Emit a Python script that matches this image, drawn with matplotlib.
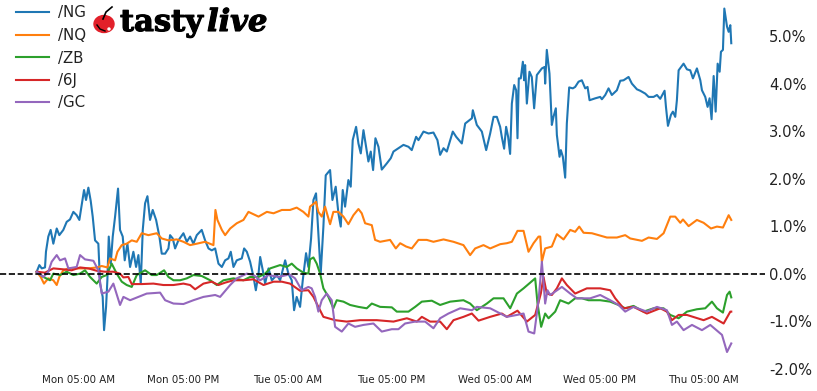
import matplotlib
matplotlib.use("Agg")
import matplotlib.pyplot as plt
import matplotlib.patheffects as pe
from matplotlib.patches import Ellipse

# hours since Monday 00:00, percent change
ng_hours = [0.12,0.43,0.70,1.08,1.19,1.46,1.73,2.04,2.43,2.73,3.19,3.58,3.96,4.35,4.73,5.04,5.31,5.58,5.81,6.08,6.35,6.58,6.85,7.23,7.43,7.73,7.89,8.12,8.27,8.43,8.66,8.89,9.16,9.50,9.73,10.04,10.27,10.58,10.89,11.27,11.58,11.85,12.12,12.35,12.62,12.89,13.19,13.50,13.89,14.27,14.54,14.93,15.31,15.50,15.81,16.08,16.46,17.04,17.43,17.81,18.19,18.58,19.15,19.54,19.93,20.31,20.70,21.08,21.47,21.85,22.23,22.50,22.81,23.19,23.77,24.04,24.35,24.73,25.12,25.39,25.70,25.89,26.19,26.46,26.85,27.23,27.81,28.19,28.77,29.14,29.53,29.80,30.10,30.49,30.80,31.18,31.45,31.76,32.03,32.33,32.60,32.87,33.18,33.45,33.95,34.22,34.60,34.91,35.18,35.41,35.68,36.06,36.33,36.56,36.95,37.22,37.49,37.80,38.10,38.37,38.64,38.91,39.18,39.53,39.91,40.49,40.95,41.26,41.83,42.41,42.99,43.37,43.87,44.14,44.72,45.30,45.87,46.33,46.64,47.03,47.41,48.10,48.49,49.14,49.53,50.30,50.41,50.87,51.45,51.95,52.41,52.80,53.18,53.56,53.75,54.02,54.25,54.48,54.71,54.91,55.18,55.41,55.56,55.71,55.94,56.18,56.33,56.44,56.64,56.94,57.21,57.48,57.79,58.37,58.68,58.75,58.94,59.25,59.52,59.71,59.98,60.10,60.41,60.56,60.79,61.06,61.25,61.52,61.94,62.21,62.60,62.98,63.37,63.64,63.87,64.52,65.10,65.29,65.68,66.06,66.44,67.02,67.41,67.79,68.37,68.75,69.33,69.71,70.29,70.68,71.25,71.64,72.02,72.52,72.68,72.91,73.25,73.48,73.75,73.94,74.14,74.71,75.10,75.48,75.79,76.25,76.64,76.83,77.21,77.48,77.71,77.94,78.18,78.41,78.64,78.87,79.02,79.25,79.41,79.72,79.91,80.10,80.21]
ng_pct = [0.04,0.18,0.11,0.13,0.46,0.78,0.92,0.63,0.95,0.81,0.92,1.09,1.14,1.30,1.23,1.13,1.44,1.76,1.55,1.81,1.53,1.20,0.70,0.63,-0.21,-0.49,-1.19,-0.70,-0.14,0.78,0.21,0.78,1.20,1.79,0.92,0.78,0.28,0.63,0.14,0.46,0.14,0.39,-0.21,0.92,1.48,1.63,1.13,1.34,1.13,0.78,0.42,0.42,0.53,0.81,0.74,0.53,0.70,0.85,0.67,0.78,0.63,0.81,0.92,0.70,0.53,0.49,0.53,0.21,0.14,0.28,0.32,0.46,0.14,0.28,0.32,0.53,0.46,0.25,-0.07,-0.35,0.00,0.35,0.07,-0.21,0.11,-0.14,-0.03,-0.14,0.28,0.00,-0.14,-0.77,-0.49,-0.70,-0.14,0.43,0.14,0.74,1.55,1.69,0.85,0.00,0.99,2.07,2.18,1.55,1.83,1.27,0.99,1.76,1.41,1.97,1.83,2.81,3.09,2.74,2.53,3.02,2.67,2.36,2.57,2.18,2.85,2.67,2.19,2.32,2.43,2.57,2.64,2.71,2.67,2.60,2.88,2.81,2.99,2.95,2.97,2.81,2.50,2.64,2.57,2.99,2.88,2.74,3.16,3.27,3.44,3.13,2.99,2.60,2.95,3.30,3.30,3.09,2.88,2.63,3.09,2.88,2.52,3.58,3.97,3.86,2.85,4.11,4.11,4.46,4.07,4.39,3.58,4.25,4.14,3.48,4.18,4.32,4.35,4.00,4.71,4.21,3.13,3.30,3.48,2.92,2.46,2.60,2.46,2.02,3.16,3.92,3.90,3.93,4.04,4.07,3.90,3.93,3.65,3.69,3.72,3.67,3.76,3.90,3.76,3.86,4.06,4.07,4.14,4.00,3.88,3.85,3.79,3.72,3.72,3.76,3.68,3.85,3.51,3.11,3.34,3.41,3.30,3.65,4.28,4.42,4.30,4.28,4.11,4.32,4.07,3.86,3.72,3.51,3.69,3.25,4.16,3.41,4.42,4.25,4.67,4.71,5.58,5.20,5.09,5.23,4.85]

nq_hours = [0.12,0.58,0.96,1.46,2.04,2.43,2.73,3.19,3.77,4.73,6.08,7.04,7.62,8.27,8.58,9.16,9.43,9.93,10.50,11.08,11.66,12.23,13.0,13.96,14.54,15.31,16.27,17.04,17.81,18.58,19.54,20.50,20.73,20.96,21.47,21.85,22.43,23.19,23.96,24.54,25.70,26.66,27.43,28.39,29.33,30.10,30.87,31.45,31.64,32.33,32.60,32.99,33.37,33.95,34.33,34.91,35.49,36.06,36.64,37.22,37.60,37.99,38.76,39.14,39.72,40.87,41.53,42.03,42.72,43.37,44.14,45.10,45.87,47.03,48.18,49.33,50.10,50.68,51.64,52.41,53.57,54.33,54.91,55.56,56.26,56.83,57.41,57.99,58.18,58.37,58.75,59.52,60.10,60.87,61.64,62.21,62.68,63.18,64.14,65.87,67.02,67.98,68.56,69.91,70.68,71.64,72.41,73.18,73.75,74.33,74.64,75.29,76.25,77.02,77.87,78.56,79.25,79.91,80.21]
nq_pct = [.04,-.07,-.21,-.10,-.14,-.24,-.07,.07,.11,.11,.11,.13,.16,.13,.32,.28,.46,.60,.63,.70,.67,.85,.81,.85,.74,.70,.72,.67,.60,.63,.67,.60,1.34,1.13,.92,.81,.95,1.06,1.13,1.30,1.20,1.30,1.27,1.34,1.34,1.39,1.30,1.20,1.41,1.51,1.30,1.20,1.41,1.04,1.30,1.30,1.20,1.04,1.23,1.36,1.27,1.06,1.02,.71,.67,.71,.53,.64,.57,.53,.71,.71,.67,.72,.67,.60,.39,.53,.60,.53,.62,.64,.67,.90,.90,.46,.64,.78,.78,.25,.53,.57,.83,.72,.92,.88,.99,.86,.85,.76,.76,.81,.74,.69,.76,.73,.85,1.20,1.20,1.07,1.14,1.00,1.13,1.07,.95,.99,.97,1.23,1.13]

zb_hours = [.12,.89,1.66,2.04,2.81,3.58,4.35,5.12,5.69,6.27,7.04,7.62,8.19,8.77,9.35,9.93,10.50,11.08,11.66,12.62,13.39,13.96,14.81,15.31,15.89,16.66,17.43,18.19,19.15,20.12,20.89,21.66,22.81,23.96,24.73,25.70,26.46,27.04,28.19,28.95,29.53,30.10,30.87,31.45,31.64,32.03,32.41,32.80,33.18,33.76,34.33,34.72,35.49,36.26,37.22,38.18,38.76,39.72,41.07,41.64,42.99,43.76,44.53,45.68,46.64,47.80,49.33,50.10,50.87,52.03,52.80,53.95,54.72,55.49,56.26,57.60,57.87,58.29,58.75,59.14,59.91,60.48,61.44,62.21,62.98,63.75,65.10,66.25,67.21,67.98,68.94,70.10,71.25,72.41,73.18,74.14,75.10,76.25,77.21,77.98,78.56,79.25,79.72,80.02,80.21]
zb_pct = [.04,-.07,-.14,.0,-.03,.04,-.03,.0,.07,-.07,-.21,-.07,-.03,.21,.0,-.17,-.24,-.28,-.03,.07,-.03,-.03,.07,-.07,-.14,-.14,-.10,-.03,-.05,-.14,-.24,-.14,-.10,-.14,-.07,-.07,.0,.11,.18,.14,.21,.11,.02,.0,.3,.34,.21,.0,-.31,-.49,-.73,-.56,-.59,-.66,-.70,-.73,-.63,-.70,-.71,-.80,-.80,-.70,-.59,-.57,-.66,-.59,-.56,-.63,-.77,-.63,-.52,-.52,-.73,-.42,-.31,-.10,-.63,-1.12,-.84,-.94,-.80,-.56,-.63,-.52,-.52,-.56,-.56,-.59,-.66,-.73,-.68,-.80,-.73,-.73,-.87,-.94,-.80,-.75,-.73,-.59,-.73,-.82,-.45,-.38,-.50]

j6_hours = [.12,1.08,2.04,3.19,4.15,5.12,6.08,7.04,8.0,8.96,9.73,10.12,10.69,11.08,12.23,13.58,14.73,15.89,17.04,17.81,18.39,19.35,20.31,21.08,21.85,22.81,23.96,25.12,26.27,27.43,28.39,29.33,30.49,31.45,32.03,32.60,33.18,34.53,35.87,37.41,39.33,41.26,42.80,43.95,44.53,45.49,46.64,47.41,48.18,49.33,50.30,51.07,52.41,53.76,54.33,55.56,56.64,57.60,58.25,58.56,58.94,59.52,60.10,60.68,61.25,62.21,63.56,65.10,66.25,66.83,67.79,68.94,70.48,72.02,72.79,73.37,74.14,75.10,77.02,77.98,79.33,80.10,80.21]
j6_pct = [.04,.02,.11,.09,.07,.13,.11,.06,.04,.04,.0,-.08,-.07,-.22,-.22,-.21,-.24,-.24,-.21,-.24,-.33,-.21,-.17,-.24,-.19,-.14,-.14,-.12,-.24,-.17,-.17,-.21,-.36,-.35,-.49,-.70,-.91,-.98,-1.01,-.98,-.98,-1.01,-.94,-1.01,-.91,-1.01,-1.01,-1.17,-.98,-.91,-.84,-.99,-.91,-.84,-.91,-.78,-1.01,-.87,-.42,-.07,-.42,-.45,-.31,-.10,-.24,-.42,-.31,-.31,-.35,-.52,-.73,-.70,-.84,-.73,-.80,-.98,-.87,-.87,-.98,-.91,-1.05,-.80,-.80]

gc_hours = [.12,.89,1.46,1.85,2.43,2.81,3.39,3.77,4.73,5.12,5.69,6.66,7.23,7.62,8.39,8.96,9.73,10.12,10.89,11.85,12.81,14.35,14.93,15.89,17.04,18.19,19.35,20.70,21.27,22.43,23.19,24.35,25.12,25.89,26.85,28.0,28.96,29.14,29.91,30.68,31.45,31.83,32.22,32.60,32.99,33.56,34.14,34.53,35.30,36.06,36.83,37.80,38.95,39.91,41.07,41.83,42.60,43.76,44.91,45.87,46.64,47.60,48.95,50.30,50.87,52.41,54.33,55.49,56.26,56.83,57.49,57.99,58.37,58.75,59.02,59.33,60.68,61.64,62.41,63.94,65.10,66.25,67.21,67.98,68.94,70.48,71.64,72.79,73.37,73.94,74.71,75.68,76.83,77.79,79.14,79.72,80.21]
gc_pct = [.04,-.07,.04,.25,.39,.28,.32,.11,.14,.39,.30,.27,.07,-.42,-.38,-.21,-.66,-.49,-.56,-.49,-.42,-.40,-.56,-.63,-.64,-.56,-.49,-.45,-.49,-.24,-.10,.0,-.03,-.14,-.03,-.07,-.03,.0,-.10,-.35,-.28,-.31,-.49,-.80,-.56,-.42,-.56,-1.12,-1.22,-1.05,-1.12,-1.08,-1.05,-1.22,-1.17,-1.17,-1.05,-1.01,-1.01,-1.15,-.94,-.84,-.73,-.77,-.70,-.73,-.91,-.87,-.84,-1.22,-1.26,-.56,.25,-.63,-.35,-.45,-.28,-.42,-.52,-.52,-.45,-.56,-.66,-.80,-.70,-.80,-.70,-.77,-1.08,-1.01,-1.19,-1.08,-1.19,-1.08,-1.29,-1.65,-1.47]

tick_hours = [5, 17, 29, 41, 53, 65, 77]
tick_labels = ["Mon 05:00 AM", "Mon 05:00 PM", "Tue 05:00 AM", "Tue 05:00 PM",
               "Wed 05:00 AM", "Wed 05:00 PM", "Thu 05:00 AM"]
y_ticks = [-2, -1, 0, 1, 2, 3, 4, 5]

W, H = 817, 391
fig = plt.figure(figsize=(W / 100, H / 100), dpi=100)
ax = fig.add_axes([0, 20 / H, 765 / W, 371 / H])

ax.plot(ng_hours, ng_pct, label="/NG")
ax.plot(nq_hours, nq_pct, label="/NQ")
ax.plot(zb_hours, zb_pct, label="/ZB")
ax.plot(j6_hours, j6_pct, label="/6J")
ax.plot(gc_hours, gc_pct, label="/GC")
ax.axhline(0, color="black", linestyle="--", linewidth=1.2)

ax.set_xlim(-4.11, 84.1)
ax.set_ylim(-2.05, 5.76)
ax.set_xticks(tick_hours)
ax.set_xticklabels(tick_labels, fontsize=7.4, color="#222222")
ax.set_yticks(y_ticks)
ax.set_yticklabels([f"{v:.1f}%" for v in y_ticks], fontsize=10.6, color="#222222")
ax.yaxis.tick_right()
ax.tick_params(length=0)
ax.tick_params(axis="y", pad=3)
ax.tick_params(axis="x", pad=3)
for s in ax.spines.values():
    s.set_visible(False)

leg = ax.legend(loc="upper left", bbox_to_anchor=(14 / 765, 1 - 4 / 371), frameon=False, fontsize=10.8,
                handlelength=2.2, handletextpad=0.6, labelspacing=0.5,
                borderaxespad=0, borderpad=0.1)
for t in leg.get_texts():
    t.set_color("#222222")
for h in leg.get_lines():
    h.set_linewidth(1.5)

# logo
logo = fig.add_axes([0, 0, 1, 1], facecolor="none")
logo.set_xlim(0, W)
logo.set_ylim(H, 0)
logo.axis("off")
logo.add_patch(Ellipse((104, 24), 20, 17, color="#e2202a", zorder=3))
logo.plot([103, 106, 112], [19, 12, 7], color="black", lw=1.2, zorder=4)
logo.plot([97, 100, 105], [25, 29, 31], color="black", lw=1.0, zorder=4)
logo.add_patch(Ellipse((109, 29), 2, 2, color="white", zorder=4))
stroke = [pe.withStroke(linewidth=0.8, foreground="black")]
logo.text(120, 31, "tasty", fontsize=22, family="DejaVu Serif", weight="bold",
          color="black", path_effects=stroke)
logo.text(207, 31, "live", fontsize=22, family="DejaVu Serif", weight="bold",
          style="italic", color="black", path_effects=stroke)

fig.savefig("out.png", dpi=100)
